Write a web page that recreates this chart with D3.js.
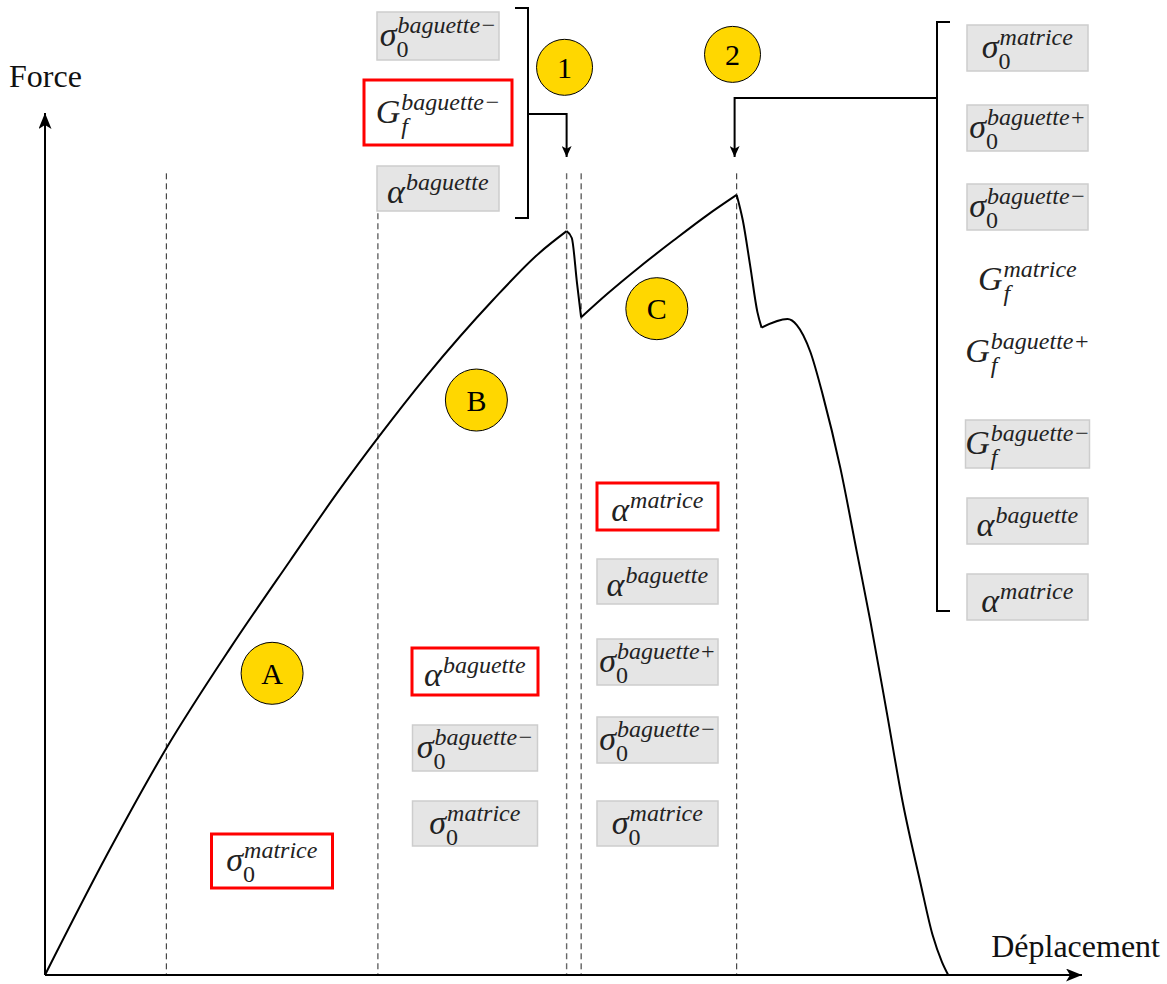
<!DOCTYPE html>
<html>
<head>
<meta charset="utf-8">
<script src="https://cdn.jsdelivr.net/npm/d3@7"></script>
<style>
  html, body { margin: 0; padding: 0; background: #fff; }
  svg { display: block; }
</style>
</head>
<body>
<svg id="chart" width="1167" height="984"></svg>
<script>
// ---------------- DATA (normalised units: displacement 0-100, force 0-100) ----------------
const segmentA = [[0,0],[6.0,14.0],[11.7,26.3],[17.8,37.8],[23.6,48.0],[28.4,56.3],[32.1,62.3],[36.8,69.5],[43.2,78.3],[47.7,83.8],[50.3,86.3]];
const dropB    = [[50.3,86.3],[50.8,85.5],[51.3,80.3],[51.7,76.3]];
const segmentC = [[51.7,76.3],[54.2,79.0],[57.4,82.2],[60.6,85.2],[63.8,88.1],[66.7,90.5]];
const dropD    = [[66.7,90.5],[67.3,87.5],[68.0,82.3],[68.7,76.9],[69.1,75.1]];
const tailE    = [[69.1,75.1],[71.6,76.1],[72.5,75.4],[73.8,72.3],[75.0,67.3],[76.7,58.8],[78.3,49.0],[79.6,41.0],[81.2,30.3],[82.7,20.1],[84.4,10.8],[85.6,4.6],[86.5,1.5],[87.1,0]];

const stageLimits = [11.7, 32.1, 50.3, 51.7, 66.7];   // dashed verticals (displacement)
const stageLimitTop = 93.0;

const stageNames  = ['A','B','C','1','2'];
const stageX      = [21.9, 41.6, 59.0, 50.1, 66.3];
const stageY      = [35.0, 66.7, 77.3, 105.3, 106.8];

const axisLabels = ['Force', 'Déplacement'];

// label contents: [base, superscript, subscript]
const labelsTopLeft = [['σ','baguette−','0'], ['G','baguette−','f'], ['α','baguette','']];
const labelsA       = [['σ','matrice','0']];
const labelsB       = [['α','baguette',''], ['σ','baguette−','0'], ['σ','matrice','0']];
const labelsC       = [['α','matrice',''], ['α','baguette',''], ['σ','baguette+','0'], ['σ','baguette−','0'], ['σ','matrice','0']];
const labelsRight   = [['σ','matrice','0'], ['σ','baguette+','0'], ['σ','baguette−','0'], ['G','matrice','f'], ['G','baguette+','f'], ['G','baguette−','f'], ['α','baguette',''], ['α','matrice','']];

// label highlight kinds: r = red frame, g = grey box, n = none
const kindsTopLeft = ['g','r','g'];
const kindsA       = ['r'];
const kindsB       = ['r','g','g'];
const kindsC       = ['r','g','g','g','g'];
const kindsRight   = ['g','g','g','n','n','g','g','g'];

// ---------------- LAYOUT ----------------
const svg = d3.select('#chart');
const x = d3.scaleLinear().domain([0,100]).range([45,1082]);
const y = d3.scaleLinear().domain([0,100]).range([975,113]);
const FONT = '"Liberation Serif","DejaVu Serif",serif';

const layout = {
  topLeft: {cx: 438,   rows: [[36,122,48],[112.5,148,65],[188.5,122,45]]},
  A:       {cx: 272,   rows: [[861,121,54]]},
  B:       {cx: 475,   rows: [[671.5,126,47],[748,125,46],[823.5,125,45]]},
  C:       {cx: 657.5, rows: [[506.5,121,47],[581.5,121,45],[662,121,46],[740,121,46],[823.5,121,45]]},
  right:   {cx: 1027.5,rows: [[48,121,46],[128,121,46],[207,121,46],[280,121,46],[352,121,46],[444,124,48],[521,121,46],[597,121,46]]}
};

const defs = svg.append('defs');
function arrowMarker(id, len, wid) {
  defs.append('marker').attr('id', id)
    .attr('viewBox', `0 0 ${len} ${wid}`)
    .attr('refX', len).attr('refY', wid/2)
    .attr('markerWidth', len).attr('markerHeight', wid)
    .attr('markerUnits', 'userSpaceOnUse')
    .attr('orient', 'auto')
    .append('path')
    .attr('d', `M0,0 L${len},${wid/2} L0,${wid} L${len*0.25},${wid/2} Z`)
    .attr('fill', '#000');
}
arrowMarker('axArrow', 16, 13);
arrowMarker('smArrow', 11, 10);

// dashed stage limits
svg.append('g').selectAll('line').data(stageLimits).join('line')
  .attr('x1', d => x(d)).attr('x2', d => x(d))
  .attr('y1', y(stageLimitTop)).attr('y2', y(0))
  .attr('stroke', (d,i) => (i === 1 || i === 2) ? '#666' : '#222')
  .attr('stroke-width', (d,i) => (i === 1 || i === 2) ? 1.4 : 1)
  .attr('stroke-dasharray', '6,4');

// axes
svg.append('line').attr('x1', x(0)).attr('y1', y(0)).attr('x2', x(100)).attr('y2', y(0))
  .attr('stroke', '#000').attr('stroke-width', 2).attr('marker-end', 'url(#axArrow)');
svg.append('line').attr('x1', x(0)).attr('y1', y(0)).attr('x2', x(0)).attr('y2', y(100))
  .attr('stroke', '#000').attr('stroke-width', 2).attr('marker-end', 'url(#axArrow)');

svg.append('text').attr('x', 9).attr('y', 87).text(axisLabels[0])
  .attr('font-family', FONT).attr('font-size', 32).attr('fill', '#111');
svg.append('text').attr('x', 1160).attr('y', 957).attr('text-anchor', 'end').text(axisLabels[1])
  .attr('font-family', FONT).attr('font-size', 32).attr('fill', '#111');

// curve
const line = d3.line().x(d => x(d[0])).y(d => y(d[1])).curve(d3.curveMonotoneX);
[segmentA, dropB, segmentC, dropD, tailE].forEach(seg => {
  svg.append('path').attr('d', line(seg)).attr('fill', 'none')
    .attr('stroke', '#000').attr('stroke-width', 2).attr('stroke-linejoin', 'round');
});

// brackets & connectors
const br = svg.append('g').attr('fill', 'none').attr('stroke', '#000').attr('stroke-width', 2);
br.append('path').attr('d', 'M515,8 H528 V218 H515');
br.append('path').attr('d', `M528,114 H${x(50.3)} V157`).attr('marker-end', 'url(#smArrow)');
br.append('path').attr('d', 'M950,22 H937 V611 H950');
br.append('path').attr('d', `M937,98 H${x(66.5)} V157`).attr('marker-end', 'url(#smArrow)');

// stage circles
const sg = svg.append('g').selectAll('g').data(stageNames).join('g')
  .attr('transform', (d,i) => `translate(${x(stageX[i])},${y(stageY[i])})`);
sg.append('circle').attr('r', (d,i) => i < 3 ? 31 : 28)
  .attr('fill', '#FFD700').attr('stroke', '#000').attr('stroke-width', 1);
sg.append('text').text(d => d).attr('text-anchor', 'middle').attr('dy', '0.35em')
  .attr('font-family', FONT).attr('font-size', 30).attr('fill', '#000');

// math labels: one <text> per label, superscript & subscript stacked with tspans
const measurer = svg.append('text').attr('font-family', FONT).attr('font-style', 'italic')
  .attr('font-size', 34).attr('visibility', 'hidden');
function drawLabel(cx, cy, w, h, content, kind) {
  const g = svg.append('g');
  if (kind === 'g') {
    g.append('rect').attr('x', cx - w/2).attr('y', cy - h/2).attr('width', w).attr('height', h)
      .attr('fill', '#e5e5e5').attr('stroke', '#cdcdcd').attr('stroke-width', 1.5);
  } else if (kind === 'r') {
    g.append('rect').attr('x', cx - w/2).attr('y', cy - h/2).attr('width', w).attr('height', h)
      .attr('fill', '#fff').attr('stroke', '#f00').attr('stroke-width', 3);
  }
  const [base, sup, sub] = content;
  measurer.text(base);
  const bw = measurer.node().getComputedTextLength();
  const t = g.append('text').attr('font-family', FONT).attr('fill', '#222').attr('font-style', 'italic');
  t.append('tspan').attr('x', 0).attr('y', 0).attr('font-size', 34).text(base);
  t.append('tspan').attr('x', bw + 1).attr('y', -13).attr('font-size', 24).text(sup);
  if (sub) {
    t.append('tspan').attr('x', bw + (sub === 'f' ? 1 : 0)).attr('y', 11)
      .attr('font-size', 24).attr('font-style', sub === 'f' ? 'italic' : 'normal').text(sub);
  }
  const bb = t.node().getBBox();
  t.attr('transform', `translate(${cx - (bb.x + bb.width/2)},${cy - (bb.y + bb.height/2) + 1})`);
}
function drawColumn(lay, contents, kinds) {
  contents.forEach((c, i) => {
    const [cy, w, h] = lay.rows[i];
    drawLabel(lay.cx, cy, w, h, c, kinds[i]);
  });
}
drawColumn(layout.topLeft, labelsTopLeft, kindsTopLeft);
drawColumn(layout.A, labelsA, kindsA);
drawColumn(layout.B, labelsB, kindsB);
drawColumn(layout.C, labelsC, kindsC);
drawColumn(layout.right, labelsRight, kindsRight);
measurer.remove();
</script>
</body>
</html>
